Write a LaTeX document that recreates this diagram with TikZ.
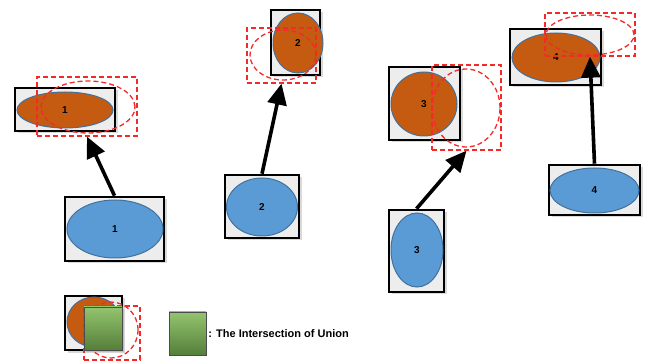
\documentclass[tikz,border=0pt]{standalone}
\usepackage{fontspec}
\setmainfont{Liberation Sans}
\usetikzlibrary{shapes.geometric,arrows.meta,shadows}
\definecolor{orng}{HTML}{C55A11}
\definecolor{blu}{HTML}{5B9BD5}
\definecolor{bluedge}{HTML}{41719C}
\definecolor{grnlt}{HTML}{93C46E}
\definecolor{grndk}{HTML}{557F3A}
\definecolor{rdash}{HTML}{F42A2A}
\begin{document}
\begin{tikzpicture}[x=1pt,y=-1pt,
  bbox/.style={draw=black, line width=2.6pt, fill=gray!14, inner sep=0pt,
    drop shadow={opacity=0.3, shadow xshift=2.5pt, shadow yshift=-2.5pt}},
  oell/.style={ellipse, fill=orng, draw=bluedge, line width=1pt, inner sep=0pt,
    font=\bfseries\fontsize{10}{11}\selectfont},
  bell/.style={ellipse, fill=blu, draw=bluedge, line width=1pt, inner sep=0pt,
    font=\bfseries\fontsize{10}{11}\selectfont},
  rrect/.style={draw=rdash, line width=1.3pt, dash pattern=on 5pt off 3pt, inner sep=0pt},
  rell/.style={ellipse, draw=rdash, line width=1.3pt, dash pattern=on 5pt off 3pt, inner sep=0pt},
  gsq/.style={draw=black!70, line width=0.4pt, top color=grnlt, bottom color=grndk, inner sep=0pt},
  arr/.style={line width=3.6pt, -{Triangle[length=21pt,width=19pt]}}
]
\useasboundingbox (0,0) rectangle (656,363);

% group 1
\node[bbox, minimum width=100pt, minimum height=43pt] (ob1) at (65,109.5) {};
\node[oell, minimum width=96pt, minimum height=36pt] (oe1) at (65,110) {1};
\node[rrect, minimum width=100pt, minimum height=59pt] (rr1) at (87,106.5) {};
\node[rell, minimum width=94pt, minimum height=52pt] (re1) at (88,107) {};
\node[bbox, minimum width=99pt, minimum height=64pt] (bb1) at (114.5,229) {};
\node[bell, minimum width=96pt, minimum height=58pt] (be1) at (115,229) {1};

% group 2
\node[bbox, minimum width=49pt, minimum height=65pt] (ob2) at (295.5,42.5) {};
\node[oell, minimum width=50pt, minimum height=60pt] (oe2) at (298,43) {2};
\node[rrect, minimum width=69pt, minimum height=55pt] (rr2) at (281.5,55.5) {};
\node[rell, minimum width=66pt, minimum height=50pt] (re2) at (283,55) {};
\node[bbox, minimum width=74pt, minimum height=63pt] (bb2) at (262,206.5) {};
\node[bell, minimum width=71pt, minimum height=58pt] (be2) at (262,207) {2};

% group 3
\node[bbox, minimum width=71pt, minimum height=73pt] (ob3) at (424.5,103.5) {};
\node[oell, minimum width=66pt, minimum height=64pt] (oe3) at (424,104) {3};
\node[rrect, minimum width=69pt, minimum height=85pt] (rr3) at (466.5,107.5) {};
\node[rell, minimum width=68pt, minimum height=78pt] (re3) at (466,108) {};
\node[bbox, minimum width=55pt, minimum height=82pt] (bb3) at (416.5,251) {};
\node[bell, minimum width=52pt, minimum height=74pt] (be3) at (417,250) {3};

% group 4
\node[bbox, minimum width=91pt, minimum height=56pt] (ob4) at (555.5,57) {};
\node[oell, minimum width=88pt, minimum height=49pt] (oe4) at (556,57.5) {4};
\node[rrect, minimum width=90pt, minimum height=43pt] (rr4) at (590,34.5) {};
\node[rell, minimum width=88pt, minimum height=40pt] (re4) at (590,35) {};
\node[bbox, minimum width=91pt, minimum height=50pt] (bb4) at (594.5,190) {};
\node[bell, minimum width=89pt, minimum height=45pt] (be4) at (594.5,190.5) {4};

% arrows
\draw[arr] (bb1.north) -- (rr1.south);
\draw[arr] (bb2.north) -- (rr2.south);
\draw[arr] (bb3.north) -- (rr3.south);
\draw[arr] (bb4.north) -- (rr4.south);

% legend
\node[bbox, minimum width=57pt, minimum height=54pt] (lb) at (93.5,323) {};
\node[oell, minimum width=54pt, minimum height=50pt] (le) at (94,322) {};
\node[rrect, minimum width=56pt, minimum height=54pt] (lrr) at (112,333) {};
\node[rell, minimum width=54pt, minimum height=56pt] (lre) at (111,330) {};
\node[gsq, minimum width=38pt, minimum height=43pt,
  drop shadow={opacity=0.3, shadow xshift=2pt, shadow yshift=-2pt}] (lg) at (103,328.5) {};
\node[gsq, minimum width=37pt, minimum height=43pt] (lg2) at (187.5,333.5) {};
\node[anchor=west, inner sep=0pt, font=\bfseries\fontsize{11}{13}\selectfont] (lt) at ([xshift=2pt]lg2.east) {: The Intersection of Union};
\end{tikzpicture}
\end{document}
